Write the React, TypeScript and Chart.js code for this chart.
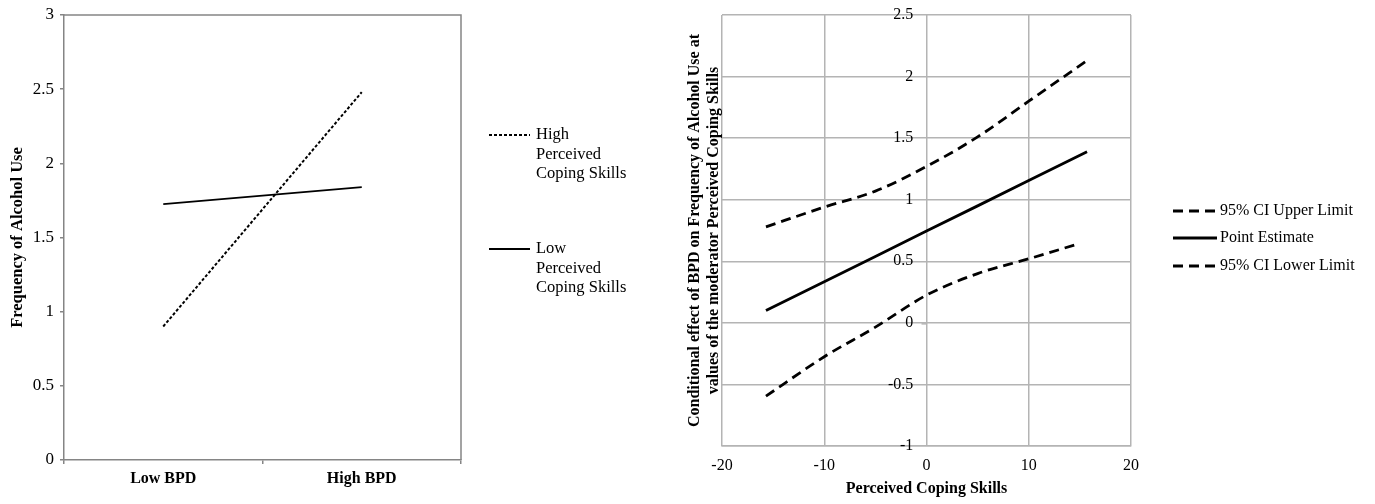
import React, { useEffect, useRef } from 'react';
import { Chart, registerables } from 'chart.js';

Chart.register(...registerables);

// ---------- Left panel data ----------
const leftCategories = ['Low BPD', 'High BPD'];
const highCopingValues = [0.9, 2.48];
const lowCopingValues = [1.725, 1.84];
const leftLegendLines = [
  ['High', 'Perceived', 'Coping Skills'],
  ['Low', 'Perceived', 'Coping Skills'],
];
const leftYTitle = 'Frequency of Alcohol Use';

// ---------- Right panel data ----------
const copingX = [-15.7, -10, -5, 0, 5, 10, 15.7];
const upperCI = [0.78, 0.94, 1.07, 1.27, 1.51, 1.8, 2.13];
const pointEstimate = [0.1, 0.334, 0.539, 0.745, 0.95, 1.156, 1.39];
const lowerCIx = [-15.7, -10, -5, 0, 5, 10, 15];
const lowerCI = [-0.595, -0.275, -0.035, 0.225, 0.4, 0.52, 0.645];
const rightLegendLabels = ['95% CI Upper Limit', 'Point Estimate', '95% CI Lower Limit'];
const rightYTitle = [
  'Conditional effect of BPD on Frequency of Alcohol Use at',
  'values of the moderator Perceived Coping Skills',
];
const rightXTitle = 'Perceived Coping Skills';

const serif = "'Liberation Serif', 'Times New Roman', serif";
const axisGray = '#858585';
const gridGray = '#b4b4b4';

const fmt = (v: any) => String(Math.round(Number(v) * 10) / 10);

const leftPlugin = {
  id: 'leftFrameLegend',
  afterDraw(chart: any) {
    const { ctx, chartArea } = chart;
    ctx.save();
    ctx.strokeStyle = axisGray;
    ctx.lineWidth = 1.5;
    ctx.beginPath();
    ctx.moveTo(chartArea.left, chartArea.top);
    ctx.lineTo(chartArea.right, chartArea.top);
    ctx.lineTo(chartArea.right, chartArea.bottom);
    ctx.stroke();

    const x0 = chartArea.right + 28;
    const x1 = chartArea.right + 69;
    const tx = chartArea.right + 75;
    const tops = [chartArea.top + 120, chartArea.top + 234];
    ctx.font = `16.5px ${serif}`;
    ctx.fillStyle = '#000';
    ctx.textBaseline = 'middle';
    ctx.textAlign = 'left';
    chart.data.datasets.forEach((ds: any, i: number) => {
      const y = tops[i];
      ctx.strokeStyle = '#000';
      ctx.lineWidth = ds.borderWidth;
      ctx.setLineDash(ds.borderDash || []);
      ctx.beginPath();
      ctx.moveTo(x0, y);
      ctx.lineTo(x1, y);
      ctx.stroke();
      ctx.setLineDash([]);
      leftLegendLines[i].forEach((line, j) => {
        ctx.fillText(line, tx, y + j * 19.5);
      });
    });
    ctx.restore();
  },
};

const rightPlugin = {
  id: 'rightLegend',
  afterDraw(chart: any) {
    const { ctx, chartArea } = chart;
    ctx.save();
    // small tick mark on the zero line at the vertical axis
    const zx = chart.scales.x.getPixelForValue(0);
    const zy = chart.scales.y.getPixelForValue(0);
    ctx.strokeStyle = gridGray;
    ctx.lineWidth = 1.5;
    ctx.beginPath();
    ctx.moveTo(zx - 5, zy + 1);
    ctx.lineTo(zx, zy + 1);
    ctx.stroke();

    const x0 = chartArea.right + 42;
    const x1 = chartArea.right + 86;
    const tx = chartArea.right + 89;
    const ys = [211, 238, 266];
    ctx.font = `16px ${serif}`;
    ctx.fillStyle = '#000';
    ctx.textBaseline = 'middle';
    ctx.textAlign = 'left';
    chart.data.datasets.forEach((ds: any, i: number) => {
      const y = ys[i];
      ctx.strokeStyle = '#000';
      ctx.lineWidth = ds.borderWidth;
      ctx.setLineDash(ds.borderDash || []);
      ctx.beginPath();
      ctx.moveTo(x0, y);
      ctx.lineTo(x1, y);
      ctx.stroke();
      ctx.setLineDash([]);
      ctx.fillText(rightLegendLabels[i], tx, y);
    });
    ctx.restore();
  },
};

export default function App() {
  const leftRef = useRef<HTMLCanvasElement>(null);
  const rightRef = useRef<HTMLCanvasElement>(null);

  useEffect(() => {
    Chart.defaults.font.family = serif;
    Chart.defaults.color = '#000';

    const left = new Chart(leftRef.current as HTMLCanvasElement, {
      type: 'line',
      data: {
        labels: leftCategories,
        datasets: [
          {
            label: 'High Perceived Coping Skills',
            data: highCopingValues,
            borderColor: '#000',
            borderWidth: 2,
            borderDash: [3, 2],
            pointRadius: 0,
            tension: 0,
          },
          {
            label: 'Low Perceived Coping Skills',
            data: lowCopingValues,
            borderColor: '#000',
            borderWidth: 1.8,
            pointRadius: 0,
            tension: 0,
          },
        ],
      },
      options: {
        animation: false,
        responsive: false,
        events: [],
        layout: { padding: { top: 15, right: 219, left: 0, bottom: 0 } },
        plugins: { legend: { display: false }, tooltip: { enabled: false } },
        scales: {
          x: {
            type: 'category',
            offset: true,
            grid: { offset: true, drawOnChartArea: false, drawTicks: true, tickLength: 4, color: axisGray, lineWidth: 1.5 },
            border: { color: axisGray, width: 1.5 },
            ticks: { font: { size: 16, weight: 'bold' }, padding: 5, color: '#000' },
            afterFit: (s: any) => { s.height = 44; },
          },
          y: {
            min: 0,
            max: 3,
            ticks: { stepSize: 0.5, font: { size: 17 }, padding: 6, color: '#000', callback: fmt },
            grid: { drawOnChartArea: false, drawTicks: true, tickLength: 4, color: axisGray, lineWidth: 1.5 },
            border: { color: axisGray, width: 1.5 },
            title: { display: true, text: leftYTitle, font: { size: 16.5, weight: 'bold' }, padding: { top: 8, bottom: 0 }, color: '#000' },
            afterFit: (s: any) => { s.width = 64; s.paddingTop = 0; s.paddingBottom = 0; },
          },
        },
      } as any,
      plugins: [leftPlugin],
    });

    const right = new Chart(rightRef.current as HTMLCanvasElement, {
      type: 'line',
      data: {
        datasets: [
          {
            label: rightLegendLabels[0],
            data: copingX.map((x, i) => ({ x, y: upperCI[i] })),
            borderColor: '#000',
            borderWidth: 2.8,
            borderDash: [10, 6],
            pointRadius: 0,
            cubicInterpolationMode: 'monotone',
            yAxisID: 'y',
          },
          {
            label: rightLegendLabels[1],
            data: copingX.map((x, i) => ({ x, y: pointEstimate[i] })),
            borderColor: '#000',
            borderWidth: 2.8,
            pointRadius: 0,
            yAxisID: 'y',
          },
          {
            label: rightLegendLabels[2],
            data: lowerCIx.map((x, i) => ({ x, y: lowerCI[i] })),
            borderColor: '#000',
            borderWidth: 2.8,
            borderDash: [10, 6],
            pointRadius: 0,
            cubicInterpolationMode: 'monotone',
            yAxisID: 'y',
          },
        ],
      },
      options: {
        animation: false,
        responsive: false,
        events: [],
        layout: { padding: { top: 15, right: 244, left: 0, bottom: 0 } },
        plugins: { legend: { display: false }, tooltip: { enabled: false } },
        scales: {
          x: {
            type: 'linear',
            min: -20,
            max: 20,
            position: 'bottom',
            ticks: { stepSize: 10, font: { size: 16 }, padding: 10, color: '#000' },
            grid: { color: gridGray, lineWidth: 1.5, drawTicks: false },
            border: { color: gridGray, width: 1.5 },
            title: { display: true, text: rightXTitle, font: { size: 16, weight: 'bold' }, padding: { top: 0, bottom: 6 }, color: '#000' },
            afterFit: (s: any) => { s.height = 58; },
          },
          y: {
            type: 'linear',
            min: -1,
            max: 2.5,
            position: { x: -1.3 },
            ticks: { stepSize: 0.5, font: { size: 16 }, padding: 0, color: '#000', callback: fmt },
            grid: { color: gridGray, lineWidth: 1.5, drawTicks: false },
            border: { display: false },
            afterFit: (s: any) => { s.paddingTop = 0; s.paddingBottom = 0; },
          },
          yt: {
            type: 'linear',
            position: 'left',
            display: true,
            ticks: { display: false },
            grid: { display: false },
            border: { display: false },
            title: { display: true, text: rightYTitle, font: { size: 16, weight: 'bold', lineHeight: 1.15 }, padding: { top: 6, bottom: 0 }, color: '#000' },
            afterFit: (s: any) => { s.width = 42; s.paddingTop = 0; s.paddingBottom = 0; },
          },
        },
      } as any,
      plugins: [rightPlugin],
    });

    return () => {
      left.destroy();
      right.destroy();
    };
  }, []);

  return (
    <div style={{ position: 'fixed', left: 0, top: 0, width: 1375, height: 504, background: '#fff' }}>
      <canvas ref={leftRef} width={680} height={504} style={{ position: 'absolute', left: 0, top: 0 }} />
      <canvas ref={rightRef} width={695} height={504} style={{ position: 'absolute', left: 680, top: 0 }} />
    </div>
  );
}
